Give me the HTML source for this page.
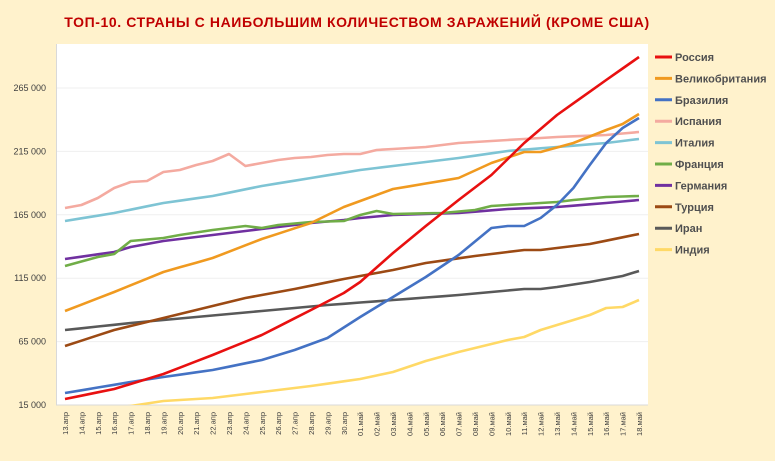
<!DOCTYPE html>
<html><head><meta charset="utf-8"><style>
body{margin:0;background:#fff2cc;font-family:"Liberation Sans",sans-serif;}
</style></head><body>
<svg id="s" width="775" height="461" xmlns="http://www.w3.org/2000/svg" style="display:block">
<rect width="775" height="461" fill="#fff2cc"/>
<text x="357" y="27" text-anchor="middle" font-family="Liberation Sans, sans-serif" font-weight="bold" font-size="14" fill="#c00000" letter-spacing="0.6">ТОП-10. СТРАНЫ С НАИБОЛЬШИМ КОЛИЧЕСТВОМ ЗАРАЖЕНИЙ (КРОМЕ США)</text>
<rect x="56" y="44" width="592" height="361" fill="#fff"/>
<g id="grid"></g>
<line x1="56" y1="405" x2="648" y2="405" stroke="#d9d9d9"/>
<line x1="56.5" y1="44" x2="56.5" y2="405" stroke="#d9d9d9"/>
<g id="lab"></g>
<clipPath id="c"><rect x="56" y="44" width="592" height="361"/></clipPath>
<g id="ser" clip-path="url(#c)"></g>
<g id="leg"></g>
</svg>
<script>
var NS="http://www.w3.org/2000/svg";
function el(p,t,a,txt){var e=document.createElementNS(NS,t);for(var k in a)e.setAttribute(k,a[k]);if(txt)e.textContent=txt;document.getElementById(p).appendChild(e);return e;}
var yl=["15 000","65 000","115 000","165 000","215 000","265 000"];
for(var i=0;i<6;i++){var y=405-i*63.4;if(i>0)el("grid","line",{x1:56,x2:648,y1:y,y2:y,stroke:"#efefef"});
el("lab","text",{x:46,y:y+3,"text-anchor":"end","font-size":"9",fill:"#404040"},yl[i]);}
var X0=65,DX=16.4;
for(var i=0;i<36;i++){var d,m;if(i<18){d=13+i;m="апр";}else{d=i-17;m="май";}
var s=(d<10?"0":"")+d+"."+m;var x=X0+i*DX+3;
el("lab","text",{x:0,y:0,transform:"translate("+x+",412) rotate(-90)","text-anchor":"end","font-size":"7.5",fill:"#404040"},s);}
function interp(k){var idx=Object.keys(k).map(Number).sort(function(a,b){return a-b});var pts=[];
for(var i=0;i<36;i++){var j=0;while(j<idx.length-1&&idx[j+1]<i)j++;var a=idx[j],b=idx[Math.min(j+1,idx.length-1)];
var y=(a==b)?k[a]:k[a]+(k[b]-k[a])*(i-a)/(b-a);if(i<idx[0])y=k[idx[0]]+5;pts.push((X0+i*DX).toFixed(1)+","+y.toFixed(1));}return pts.join(" ");}
var S=[
["Россия","#e81010",{0:399,3:389,6:374,9:355,12:335,15:310,17:293,18:282,20:253,22:226,24:200,26:175,28:143,30:115,33:80,35:57}],
["Великобритания","#f09a20",{0:311,3:292,6:272,9:258,12:239,15:223,17:207,20:189,24:178,26:163,28:152,29:152,31:143,33:130,34:124,35:114}],
["Бразилия","#4472c4",{0:393,4:382,6:377,9:370,12:360,14:350,16:338,18:317,20:297,22:277,24:255,26:228,27:226,28:226,29:218,30:205,31:188,32:165,33:143,34:128,35:118}],
["Испания","#f4aaa0",{0:208,1:205,2:198,3:188,4:182,5:181,6:172,7:170,8:165,9:161,10:154,11:166,12:163,13:160,14:158,15:157,16:155,17:154,18:154,19:150,20:149,22:147,24:143,26:141,28:139,30:137,33:135,35:132}],
["Италия","#7ec4d4",{0:221,3:213,6:203,9:196,12:186,15:178,18:170,21:164,24:158,27:151,30:147,33:143,35:139}],
["Франция","#70ad47",{0:266,2:257,3:254,4:241,6:238,7:235,9:230,11:226,12:228,13:225,15:222,17:221,18:215,19:211,20:214,23:213,25:210,26:206,30:202,31:200,33:197,35:196}],
["Германия","#7030a0",{0:259,3:252,4:247,6:241,9:235,12:229,15:223,17:220,18:218,20:215,24:213,27:209,30:207,33:203,35:200}],
["Турция","#9c4a14",{0:346,3:330,6:318,9:306,11:298,14:289,17:279,20:270,22:263,25:256,28:250,29:250,32:244,35:234}],
["Иран","#595959",{0:330,4:323,8:317,12:311,16:305,20:300,24:295,28:289,29:289,30:287,32:282,34:276,35:271}],
["Индия","#ffd966",{0:412,4:406,6:401,9:398,12:392,15:386,18:379,20:372,22:361,24:352,26:344,27:340,28:337,29:330,31:320,32:315,33:308,34:307,35:300}]
];
for(var i=S.length-1;i>=0;i--)el("ser","polyline",{points:interp(S[i][2]),fill:"none",stroke:S[i][1],"stroke-width":"2.6","stroke-linejoin":"round"});
for(var i=0;i<S.length;i++){var y=57+i*21.4;
el("leg","line",{x1:655,x2:672,y1:y,y2:y,stroke:S[i][1],"stroke-width":"3"});
el("leg","text",{x:675,y:y+4,"font-size":"11","font-weight":"bold",fill:"#505050"},S[i][0]);}
</script>
</body></html>
